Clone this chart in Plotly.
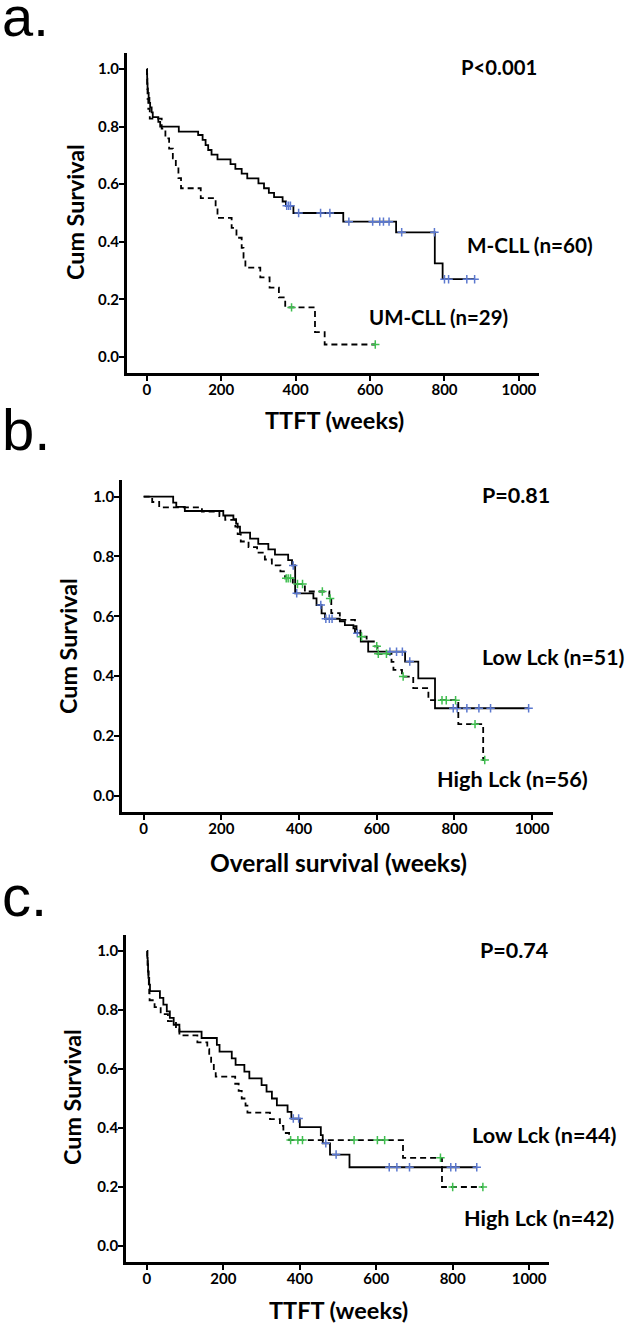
import plotly.graph_objects as go

W, H = 633, 1325

# ---------------- data ----------------
x_ticks = [0, 200, 400, 600, 800, 1000]
x_tick_labels = ["0", "200", "400", "600", "800", "1000"]
y_ticks = [0.0, 0.2, 0.4, 0.6, 0.8, 1.0]
y_tick_labels = ["0.0", "0.2", "0.4", "0.6", "0.8", "1.0"]

# Panel a: TTFT, M-CLL (solid) vs UM-CLL (dashed)
a_m_time = [0, 0.5, 1, 1.5, 2, 3, 5, 7, 9, 13, 16, 31, 36, 86, 138, 150, 158, 165, 174, 190,
            225, 238, 255, 270, 300, 315, 328, 342, 365, 374, 394, 528, 670, 774, 795]
a_m_surv = [1.0, 0.983, 0.967, 0.95, 0.933, 0.917, 0.90, 0.883, 0.867, 0.85, 0.833, 0.817, 0.80,
            0.783, 0.771, 0.754, 0.736, 0.719, 0.703, 0.686, 0.670, 0.653, 0.637, 0.620, 0.603,
            0.586, 0.570, 0.555, 0.540, 0.525, 0.50, 0.47, 0.433, 0.325, 0.27]
a_m_cens = [376, 381, 386, 408, 467, 492, 543, 607, 626, 636, 651, 685, 773, 800, 811, 860, 881]
a_m_end = 881

a_u_time = [0, 0.5, 1, 2, 4, 8, 40, 50, 60, 70, 78, 85, 92, 145, 185, 190, 228, 241, 255, 260,
            265, 305, 330, 355, 372, 452, 478]
a_u_surv = [1.0, 0.966, 0.931, 0.897, 0.862, 0.828, 0.793, 0.759, 0.724, 0.690, 0.655, 0.621,
            0.586, 0.552, 0.517, 0.483, 0.448, 0.414, 0.379, 0.345, 0.310, 0.276, 0.241, 0.207,
            0.172, 0.086, 0.043]
a_u_cens = [389, 614]
a_u_end = 614

# Panel b: overall survival, Low Lck (solid) vs High Lck (dashed)
b_l_time = [0, 76, 84, 106, 205, 231, 238, 242, 248, 274, 295, 321, 338, 372, 382, 390, 437, 445,
            458, 467, 505, 518, 540, 544, 559, 578, 673, 707, 750]
b_l_surv = [1.0, 0.98, 0.966, 0.952, 0.937, 0.925, 0.91, 0.90, 0.88, 0.86, 0.842, 0.824, 0.806,
            0.788, 0.77, 0.677, 0.66, 0.638, 0.61, 0.592, 0.583, 0.571, 0.56, 0.544, 0.516, 0.482,
            0.449, 0.393, 0.293]
b_l_cens = [385, 394, 456, 469, 478, 485, 550, 634, 651, 666, 685, 797, 807, 832, 863, 893, 991]
b_l_end = 991

b_h_time = [0, 22, 40, 150, 195, 210, 236, 242, 250, 270, 292, 312, 330, 352, 364, 384, 415, 478,
            483, 505, 544, 548, 558, 574, 595, 602, 638, 643, 665, 694, 733, 810, 874]
b_h_surv = [1.0, 0.982, 0.964, 0.95, 0.935, 0.922, 0.90, 0.875, 0.85, 0.831, 0.813, 0.79, 0.77,
            0.75, 0.727, 0.708, 0.683, 0.66, 0.611, 0.588, 0.567, 0.557, 0.532, 0.516, 0.50, 0.475,
            0.448, 0.421, 0.399, 0.36, 0.32, 0.24, 0.12]
b_h_cens = [367, 372, 378, 396, 409, 460, 480, 561, 600, 604, 625, 668, 768, 779, 803, 853, 878]
b_h_end = 878

# Panel c: TTFT, Low Lck (solid) vs High Lck (dashed)
c_l_time = [0, 1, 2, 3, 4, 6, 8, 34, 43, 52, 60, 70, 85, 143, 183, 190, 222, 232, 255, 268, 300,
            313, 327, 340, 368, 378, 400, 455, 460, 479, 530]
c_l_surv = [1.0, 0.977, 0.955, 0.932, 0.909, 0.886, 0.864, 0.841, 0.818, 0.795, 0.773, 0.75,
            0.727, 0.705, 0.682, 0.659, 0.636, 0.614, 0.591, 0.568, 0.545, 0.523, 0.50, 0.477,
            0.455, 0.432, 0.403, 0.376, 0.348, 0.31, 0.267]
c_l_cens = [383, 397, 468, 495, 634, 654, 687, 795, 808, 863]
c_l_end = 863

c_h_time = [0, 1, 2, 3, 4, 5, 6, 7, 20, 36, 55, 76, 85, 132, 158, 163, 168, 175, 180, 231, 240,
            248, 258, 263, 322, 348, 357, 372, 670, 772]
c_h_surv = [1.0, 0.976, 0.952, 0.929, 0.905, 0.881, 0.857, 0.833, 0.81, 0.786, 0.762, 0.738,
            0.714, 0.69, 0.667, 0.643, 0.619, 0.595, 0.574, 0.55, 0.526, 0.50, 0.476, 0.452, 0.43,
            0.407, 0.383, 0.359, 0.299, 0.20]
c_h_cens = [376, 395, 407, 542, 603, 622, 768, 800, 879]
c_h_end = 879

# ---------------- layout geometry (pixels) ----------------
panels = [
    dict(x0=126.7, x1=539.0, y0=53, y1=373, xr=[-54, 1054], yr=[-0.056, 1.056]),
    dict(x0=121.9, x1=553.1, y0=480, y1=812, xr=[-56, 1054], yr=[-0.0535, 1.0555]),
    dict(x0=125.9, x1=549.0, y0=935, y1=1262, xr=[-55, 1052], yr=[-0.0542, 1.0542]),
]

BLUE = "#5b78cf"
GREEN = "#3fbf4f"
TXT = "Lato"


def surv_at(times, survs, t):
    v = survs[0]
    for tt, ss in zip(times, survs):
        if tt <= t:
            v = ss
    return v


fig = go.Figure()

series = [
    (1, a_m_time, a_m_surv, a_m_cens, a_m_end, "solid", BLUE),
    (1, a_u_time, a_u_surv, a_u_cens, a_u_end, "6px,4px", GREEN),
    (2, b_l_time, b_l_surv, b_l_cens, b_l_end, "solid", BLUE),
    (2, b_h_time, b_h_surv, b_h_cens, b_h_end, "6px,4px", GREEN),
    (3, c_l_time, c_l_surv, c_l_cens, c_l_end, "solid", BLUE),
    (3, c_h_time, c_h_surv, c_h_cens, c_h_end, "6px,4px", GREEN),
]

for k, times, survs, cens, end, dash, mcol in series:
    xa = "x" if k == 1 else f"x{k}"
    ya = "y" if k == 1 else f"y{k}"
    fig.add_trace(go.Scatter(
        x=list(times) + [end], y=list(survs) + [survs[-1]], mode="lines",
        line=dict(color="black", width=1.8, dash=dash, shape="hv"),
        xaxis=xa, yaxis=ya, showlegend=False, hoverinfo="skip"))
    fig.add_trace(go.Scatter(
        x=cens, y=[surv_at(times, survs, c) for c in cens], mode="markers",
        marker=dict(symbol="cross-thin", size=6, line=dict(color=mcol, width=1.5)),
        xaxis=xa, yaxis=ya, showlegend=False, hoverinfo="skip"))

layout = dict(width=W, height=H, margin=dict(l=0, r=0, t=0, b=0),
              paper_bgcolor="white", plot_bgcolor="white", showlegend=False)

tickfont = dict(family=TXT, size=15, color="black", weight="bold")
for i, p in enumerate(panels, start=1):
    xs = "xaxis" if i == 1 else f"xaxis{i}"
    ys = "yaxis" if i == 1 else f"yaxis{i}"
    layout[xs] = dict(domain=[p["x0"] / W, p["x1"] / W], range=p["xr"],
                      anchor="y" if i == 1 else f"y{i}",
                      showline=True, linecolor="black", linewidth=2.5, mirror=False,
                      ticks="outside", ticklen=5, tickwidth=2, tickcolor="black",
                      tickvals=x_ticks, ticktext=x_tick_labels, tickfont=tickfont,
                      ticklabelstandoff=-4,
                      showgrid=False, zeroline=False, fixedrange=True)
    layout[ys] = dict(domain=[1 - p["y1"] / H, 1 - p["y0"] / H], range=p["yr"],
                      anchor="x" if i == 1 else f"x{i}",
                      showline=True, linecolor="black", linewidth=2.5, mirror=False,
                      ticks="outside", ticklen=5, tickwidth=2, tickcolor="black",
                      tickvals=y_ticks, ticktext=y_tick_labels, tickfont=tickfont,
                      ticklabelstandoff=-3,
                      showgrid=False, zeroline=False, fixedrange=True)

fig.update_layout(**layout)


def ann(text, x, y, size, xanchor="left", angle=0, family=TXT, weight="bold"):
    fig.add_annotation(text=text, x=x / W, y=1 - y / H, xref="paper", yref="paper",
                       showarrow=False, xanchor=xanchor, yanchor="middle", textangle=angle,
                       font=dict(family=family, size=size, color="black", weight=weight))


# panel letters
ann("a.", 0, 17, 56, family="Liberation Sans", weight="normal")
ann("b.", 0, 429, 58, family="Liberation Sans", weight="normal")
ann("c.", 0, 895, 58, family="Liberation Sans", weight="normal")

# panel a texts
ann("P&lt;0.001", 459, 67, 20.3)
ann("M-CLL (n=60)", 465, 245, 20.7)
ann("UM-CLL (n=29)", 367, 317, 20.4)
ann("TTFT (weeks)", 334, 420, 23.5, xanchor="center")
ann("Cum Survival", 75, 212, 23.3, xanchor="center", angle=-90)

# panel b texts
ann("P=0.81", 480, 495, 21.5)
ann("Low Lck (n=51)", 480, 657, 21.3)
ann("High Lck (n=56)", 435, 779, 21.7)
ann("Overall survival (weeks)", 338, 862, 24.5, xanchor="center")
ann("Cum Survival", 68, 646, 23.3, xanchor="center", angle=-90)

# panel c texts
ann("P=0.74", 478, 950, 21.5)
ann("Low Lck (n=44)", 470, 1135, 21.6)
ann("High Lck (n=42)", 462, 1218, 21.6)
ann("TTFT (weeks)", 338, 1310, 23.5, xanchor="center")
ann("Cum Survival", 72, 1097, 23.3, xanchor="center", angle=-90)

fig.write_html("out.html", config={"displayModeBar": False},
               post_script="document.body.style.margin='0';document.body.style.overflow='hidden';")
